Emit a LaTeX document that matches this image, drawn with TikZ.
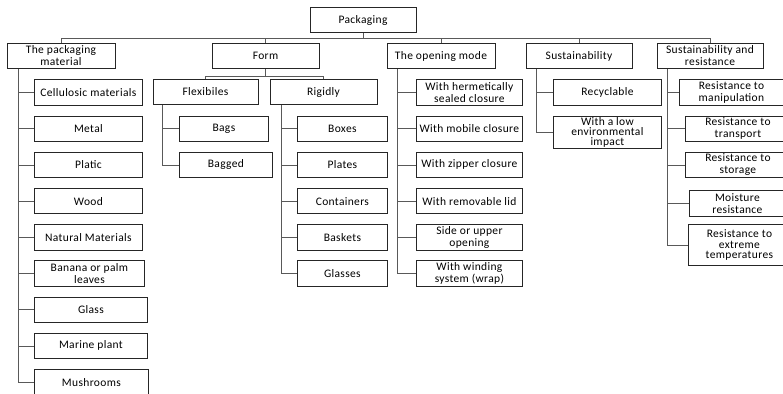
\documentclass[tikz,border=0pt]{standalone}
\usepackage{fontspec}
\setmainfont[LetterSpace=3]{Carlito}

\begin{document}
\begin{tikzpicture}[x=1pt,y=-1pt,
  box/.style={draw=black!85, line width=0.8pt, fill=white, minimum height=25.5pt,
    inner sep=1pt, align=center, font=\fontsize{11.5}{12}\selectfont},
  link/.style={draw=black!65, line width=0.7pt}]
\clip (0,0) rectangle (783,393);

\node[box, minimum width=106pt] (root) at (363,20) {Packaging};
\node[box, minimum width=108pt] (mat) at (61,56) {The packaging\\material};
\node[box, minimum width=107pt] (form) at (265.5,56) {Form};
\node[box, minimum width=108pt] (open) at (441,56) {The opening mode};
\node[box, minimum width=106pt] (sus) at (579,56) {Sustainability};
\node[box, minimum width=106pt] (res) at (710,56) {Sustainability and\\resistance};
\draw[link] (root.south) -- ++(0,5) -| (mat.north);
\draw[link] (root.south) -- ++(0,5) -| (form.north);
\draw[link] (root.south) -- ++(0,5) -| (open.north);
\draw[link] (root.south) -- ++(0,5) -| (sus.north);
\draw[link] (root.south) -- ++(0,5) -| (res.north);

\node[box, anchor=west, minimum width=108pt] (mat1) at (34,92.5) {Cellulosic materials};
\node[box, anchor=west, minimum width=108pt] (mat2) at (34,128.7) {Metal};
\node[box, anchor=west, minimum width=108pt] (mat3) at (34,164.9) {Platic};
\node[box, anchor=west, minimum width=108pt] (mat4) at (34,201.1) {Wood};
\node[box, anchor=west, minimum width=108pt] (mat5) at (34,237.3) {Natural Materials};
\node[box, anchor=west, minimum width=110pt] (mat6) at (34,273.5) {Banana or palm\\leaves};
\node[box, anchor=west, minimum width=113pt] (mat7) at (34,309.7) {Glass};
\node[box, anchor=west, minimum width=113pt] (mat8) at (34,345.9) {Marine plant};
\node[box, anchor=west, minimum width=114pt] (mat9) at (34,382.6) {Mushrooms};
\coordinate (matbus) at ([xshift=12pt]mat.south west);
\draw[link] (matbus) |- (mat9.west);
\draw[link] (mat1.west) -- (mat1.west -| matbus);
\draw[link] (mat2.west) -- (mat2.west -| matbus);
\draw[link] (mat3.west) -- (mat3.west -| matbus);
\draw[link] (mat4.west) -- (mat4.west -| matbus);
\draw[link] (mat5.west) -- (mat5.west -| matbus);
\draw[link] (mat6.west) -- (mat6.west -| matbus);
\draw[link] (mat7.west) -- (mat7.west -| matbus);
\draw[link] (mat8.west) -- (mat8.west -| matbus);

\node[box, minimum width=105pt] (flex) at (205.5,92) {Flexibiles};
\node[box, minimum width=107pt] (rigid) at (323.5,92) {Rigidly};
\draw[link] (form.south) -- ++(0,7) -| (flex.north);
\draw[link] (form.south) -- ++(0,7) -| (rigid.north);

\node[box, anchor=west, minimum width=89pt] (flex1) at (179,128.7) {Bags};
\node[box, anchor=west, minimum width=93pt] (flex2) at (179,164.9) {Bagged};
\coordinate (flexbus) at ([xshift=10pt]flex.south west);
\draw[link] (flexbus) |- (flex2.west);
\draw[link] (flex1.west) -- (flex1.west -| flexbus);

\node[box, anchor=west, minimum width=90pt] (rigid1) at (297,128.7) {Boxes};
\node[box, anchor=west, minimum width=90pt] (rigid2) at (297,164.9) {Plates};
\node[box, anchor=west, minimum width=90pt] (rigid3) at (297,201.1) {Containers};
\node[box, anchor=west, minimum width=90pt] (rigid4) at (297,237.3) {Baskets};
\node[box, anchor=west, minimum width=90pt] (rigid5) at (297,273.5) {Glasses};
\coordinate (rigidbus) at ([xshift=12pt]rigid.south west);
\draw[link] (rigidbus) |- (rigid5.west);
\draw[link] (rigid1.west) -- (rigid1.west -| rigidbus);
\draw[link] (rigid2.west) -- (rigid2.west -| rigidbus);
\draw[link] (rigid3.west) -- (rigid3.west -| rigidbus);
\draw[link] (rigid4.west) -- (rigid4.west -| rigidbus);

\node[box, anchor=west, minimum width=106pt] (open1) at (416,92.5) {With hermetically\\sealed closure};
\node[box, anchor=west, minimum width=106pt] (open2) at (416,128.7) {With mobile closure};
\node[box, anchor=west, minimum width=106pt] (open3) at (416,164.9) {With zipper closure};
\node[box, anchor=west, minimum width=106pt] (open4) at (416,201.1) {With removable lid};
\node[box, anchor=west, minimum width=106pt] (open5) at (416,237.3) {Side or upper\\opening};
\node[box, anchor=west, minimum width=106pt] (open6) at (416,273.5) {With winding\\system (wrap)};
\coordinate (openbus) at ([xshift=11pt]open.south west);
\draw[link] (openbus) |- (open6.west);
\draw[link] (open1.west) -- (open1.west -| openbus);
\draw[link] (open2.west) -- (open2.west -| openbus);
\draw[link] (open3.west) -- (open3.west -| openbus);
\draw[link] (open4.west) -- (open4.west -| openbus);
\draw[link] (open5.west) -- (open5.west -| openbus);

\node[box, anchor=west, minimum width=108pt] (sus1) at (553,92.5) {Recyclable};
\node[box, anchor=west, minimum width=108pt, minimum height=32pt, inner sep=0pt,
  font=\fontsize{11.5}{10}\selectfont] (sus2) at (553,132) {With a low\\environmental\\impact};
\coordinate (susbus) at ([xshift=11pt]sus.south west);
\draw[link] (susbus) |- (sus2.west);
\draw[link] (sus1.west) -- (sus1.west -| susbus);

\node[box, anchor=west, minimum width=104pt] (res1) at (679,92.5) {Resistance to\\manipulation};
\node[box, anchor=west, minimum width=105pt] (res2) at (685,128.7) {Resistance to\\transport};
\node[box, anchor=west, minimum width=105pt] (res3) at (685,164.9) {Resistance to\\storage};
\node[box, anchor=west, minimum width=96pt] (res4) at (689,203.5) {Moisture\\resistance};
\node[box, anchor=west, minimum width=102pt, minimum height=41pt,
  font=\fontsize{11.5}{10.7}\selectfont] (res5) at (688,245) {Resistance to\\extreme\\temperatures};
\coordinate (resbus) at ([xshift=10.5pt]res.south west);
\draw[link] (resbus) |- (res5.west);
\draw[link] (res1.west) -- (res1.west -| resbus);
\draw[link] (res2.west) -- (res2.west -| resbus);
\draw[link] (res3.west) -- (res3.west -| resbus);
\draw[link] (res4.west) -- (res4.west -| resbus);
\end{tikzpicture}
\end{document}
